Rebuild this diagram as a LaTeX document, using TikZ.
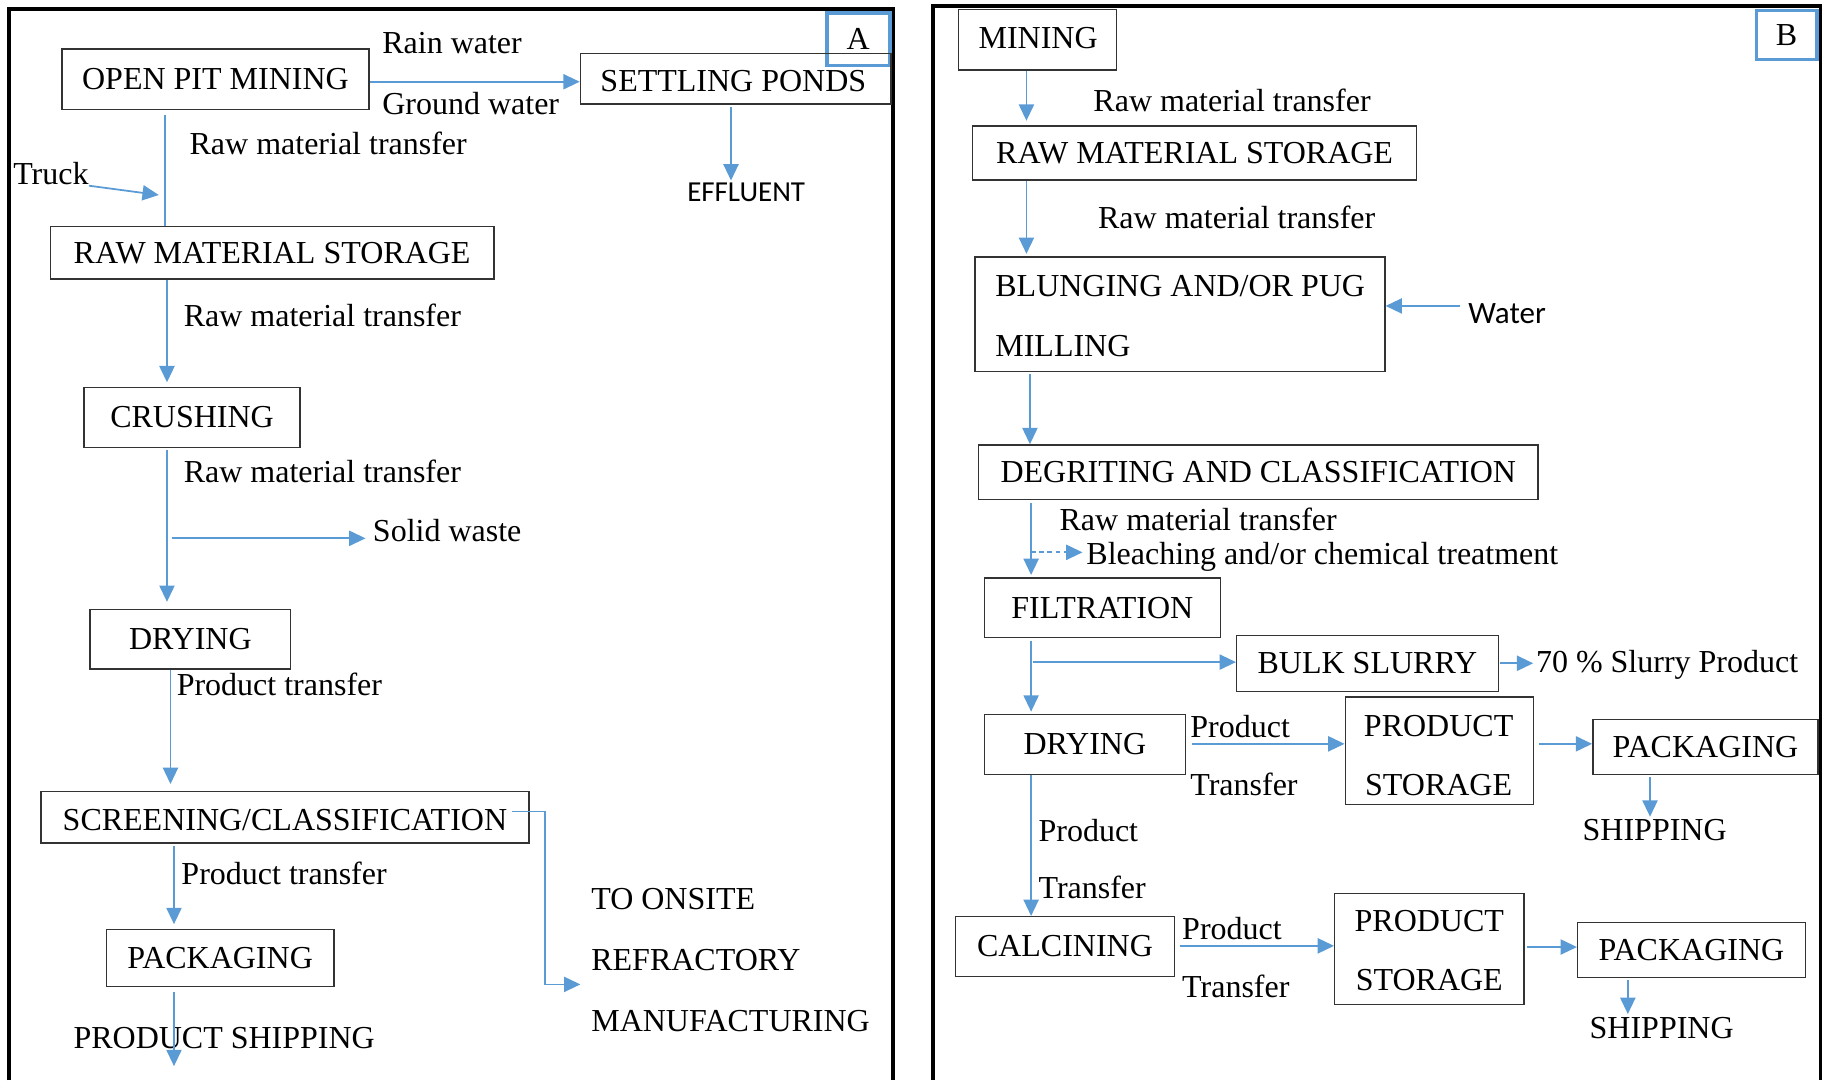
\documentclass[tikz,border=0pt]{standalone}
\usepackage{fontspec}
\setmainfont{Liberation Serif}
\newfontfamily\calib{Carlito}
\usetikzlibrary{arrows.meta,fit}
\definecolor{myblue}{HTML}{5B9BD5}
\begin{document}
\begin{tikzpicture}[x=0.5pt,y=-0.5pt,
 font=\fontsize{13.7}{16}\selectfont,
 box/.style={draw=black!80, line width=0.6pt, inner sep=0pt},
 lbl/.style={anchor=west, inner sep=0pt},
 ctr/.style={inner sep=0pt, anchor=center},
 flow/.style={draw=myblue, line width=0.75pt, -{Triangle[length=7pt,width=6.5pt]}},
 link/.style={draw=myblue, line width=0.75pt},
 frame/.style={line width=1.6pt, black},
 tag/.style={draw=myblue, line width=1.5pt, inner sep=0pt}]
\useasboundingbox (0,0) rectangle (1568,925);
% panel frames
\draw[frame] (8,925) -- (8,8) -- (765,8) -- (765,925);
\draw[frame] (799,925) -- (799,5) -- (1559,5) -- (1559,925);
\node[tag, fit={(708,11) (762,56)}] (tagA) {};
\node[ctr] (tagAt) at (tagA) {A};
\node[tag, fit={(1504,9) (1556,51)}] (tagB) {};
\node[ctr] (tagBt) at (tagB) {B};

% ---------- Panel A ----------
\node[box, fit={(53,42) (316,94)}] (opm) {};
\node[ctr] (opmt) at (opm) {OPEN PIT MINING};
\node[box, fit={(497,46) (763,89)}] (sp) {};
\node[ctr] (spt) at (628,69) {SETTLING PONDS};
\node[ctr, font=\calib\fontsize{12.4}{14}\selectfont] (eff) at (639,165) {EFFLUENT};
\node[lbl] (rain) at (327,37) {Rain water};
\node[lbl] (ground) at (327,89) {Ground water};
\node[lbl] (rmtA1) at (162,123) {Raw material transfer};
\node[lbl] (truck) at (11,149) {Truck};
\node[box, fit={(43,194) (423,239)}] (rmsA) {};
\node[ctr] (rmsAt) at (rmsA) {RAW MATERIAL STORAGE};
\node[lbl] (rmtA2) at (157,270) {Raw material transfer};
\node[box, fit={(72,332) (257,383)}] (crA) {};
\node[ctr] (crAt) at (crA) {CRUSHING};
\node[lbl] (rmtA3) at (157,404) {Raw material transfer};
\node[lbl] (sw) at (319,454) {Solid waste};
\node[box, fit={(77,522) (249,573)}] (dryA) {};
\node[ctr] (dryAt) at (dryA) {DRYING};
\node[lbl] (ptA1) at (151,586) {Product transfer};
\node[box, fit={(35,678) (453,722)}] (scrA) {};
\node[ctr] (scrAt) at (244,702) {SCREENING/CLASSIFICATION};
\node[lbl] (ptA2) at (155,748) {Product transfer};
\node[box, fit={(91,796) (286,845)}] (pkA) {};
\node[ctr] (pkAt) at (pkA) {PACKAGING};
\node[ctr] (shipA) at (192,889) {PRODUCT SHIPPING};
\node[lbl] (ons1) at (506,770) {TO ONSITE};
\node[lbl] (ons2) at (506,822) {REFRACTORY};
\node[lbl] (ons3) at (506,874) {MANUFACTURING};

\coordinate (xA1) at (141,0);
\coordinate (xA2) at (626,0);
\coordinate (xA3) at (143,0);
\coordinate (xA4) at (146,0);
\coordinate (xA5) at (149,0);
\coordinate (truckend) at (136,167);
\coordinate (swst) at (147,461);
\coordinate (turnA) at (467,695);
\coordinate (onsite) at (497,843);
\coordinate (shipend) at (149,913);

\draw[flow] (opm.east |- 0,70) -- (sp.west |- 0,70);
\draw[flow] ([yshift=-1pt]sp.south -| xA2) -- ([yshift=1pt]eff.north -| xA2);
\draw[link] ([yshift=-2pt]opm.south -| xA1) -- (rmsA.north -| xA1);
\draw[flow] (truck.south east) -- (truckend);
\draw[flow] (rmsA.south -| xA3) -- ([yshift=2pt]crA.north -| xA3);
\draw[flow] ([yshift=-1pt]crA.south -| xA3) -- ([yshift=3pt]dryA.north -| xA3);
\draw[flow] (swst) -- ([xshift=-3pt]swst -| sw.west);
\draw[flow] (dryA.south -| xA4) -- ([yshift=3pt]scrA.north -| xA4);
\draw[flow] ([yshift=-1pt]scrA.south -| xA5) -- ([yshift=2pt]pkA.north -| xA5);
\draw[flow] ([yshift=-2pt]pkA.south -| xA5) -- (shipend);
\draw[flow] ([shift={(-15,-5)}]scrA.east) -- (turnA) |- (onsite);

% ---------- Panel B ----------
\node[box, fit={(821,8) (956,60)}] (minB) {};
\node[ctr] (minBt) at (889,33) {MINING};
\node[lbl] (rmtB1) at (936,86) {Raw material transfer};
\node[box, fit={(833,108) (1213,154)}] (rmsB) {};
\node[ctr] (rmsBt) at (rmsB) {RAW MATERIAL STORAGE};
\node[lbl] (rmtB2) at (940,186) {Raw material transfer};
\node[box, fit={(835,220) (1186,318)}] (blu) {};
\node[lbl] (blu1) at (852,245) {BLUNGING AND/OR PUG};
\node[lbl] (blu2) at (852,296) {MILLING};
\node[lbl, font=\calib\fontsize{13.3}{15}\selectfont] (water) at (1257,269) {Water};
\node[box, fit={(838,381) (1317,428)}] (deg) {};
\node[ctr] (degt) at (deg) {DEGRITING AND CLASSIFICATION};
\node[lbl] (rmtB3) at (907,445) {Raw material transfer};
\node[lbl] (bleach) at (930,477) {Bleaching and/or chemical treatment};
\node[box, fit={(843,495) (1045,546)}] (fil) {};
\node[ctr] (filt) at (fil) {FILTRATION};
\node[box, fit={(1059,544) (1283,592)}] (bulk) {};
\node[ctr] (bulkt) at (bulk) {BULK SLURRY};
\node[lbl] (slurry) at (1315,569) {70 \% Slurry Product};
\node[box, fit={(843,612) (1015,663)}] (dryB) {};
\node[ctr] (dryBt) at (dryB) {DRYING};
\node[lbl] (pt1) at (1019,622) {Product};
\node[lbl] (tr1) at (1019,672) {Transfer};
\node[box, fit={(1152,597) (1313,689)}] (ps1) {};
\node[ctr] (ps1a) at (1232,622) {PRODUCT};
\node[ctr] (ps1b) at (1232,672) {STORAGE};
\node[box, fit={(1364,616) (1557,663)}] (pk1) {};
\node[ctr] (pk1t) at (pk1) {PACKAGING};
\node[ctr] (ship1) at (1417,711) {SHIPPING};
\node[lbl] (pt2) at (889,711) {Product};
\node[lbl] (tr2) at (889,760) {Transfer};
\node[box, fit={(818,785) (1006,836)}] (calc) {};
\node[ctr] (calct) at (calc) {CALCINING};
\node[lbl] (pt3) at (1012,795) {Product};
\node[lbl] (tr3) at (1012,845) {Transfer};
\node[box, fit={(1143,765) (1305,860)}] (ps2) {};
\node[ctr] (ps2a) at (1224,789) {PRODUCT};
\node[ctr] (ps2b) at (1224,839) {STORAGE};
\node[box, fit={(1351,790) (1546,837)}] (pk2) {};
\node[ctr] (pk2t) at (pk2) {PACKAGING};
\node[ctr] (ship2) at (1423,880) {SHIPPING};

\coordinate (xB1) at (879,0);
\coordinate (xB2) at (882,0);
\coordinate (xB3) at (883,0);
\coordinate (xB4) at (1413,0);
\coordinate (xB5) at (1394,0);
\coordinate (wst) at (1250,262);
\coordinate (bl) at (883,473);
\coordinate (bk) at (885,567);

\draw[flow] (minB.south -| xB1) -- ([yshift=2pt]rmsB.north -| xB1);
\draw[flow] (rmsB.south -| xB1) -- ([yshift=1pt]blu.north -| xB1);
\draw[flow] (wst) -- (wst -| blu.east);
\draw[flow] ([yshift=-1pt]blu.south -| xB2) -- (deg.north -| xB2);
\draw[flow] ([yshift=-1pt]deg.south -| xB3) -- ([yshift=1pt]fil.north -| xB3);
\draw[flow, dash pattern=on 2pt off 1.5pt] (bl) -- ([xshift=-1.5pt]bl -| bleach.west);
\draw[flow] ([yshift=-1pt]fil.south -| xB3) -- ([yshift=1pt]dryB.north -| xB3);
\draw[flow] (bk) -- (bk -| bulk.west);
\draw[flow] ([xshift=0.5pt]bulk.east) -- ([xshift=-1pt]bulk.east -| slurry.west);
\draw[flow] ([xshift=2.5pt]dryB.east |- 0,637) -- (ps1.west |- 0,637);
\draw[flow] ([xshift=2pt]ps1.east |- 0,637) -- (pk1.west |- 0,637);
\draw[flow] ([yshift=-1pt]pk1.south -| xB4) -- ([yshift=1pt]ship1.north -| xB4);
\draw[flow] (dryB.south -| xB3) -- (calc.north -| xB3);
\draw[flow] ([xshift=2pt]calc.east |- 0,810) -- (ps2.west |- 0,810);
\draw[flow] ([xshift=1pt]ps2.east |- 0,811) -- (pk2.west |- 0,811);
\draw[flow] ([yshift=-1pt]pk2.south -| xB5) -- ([yshift=1pt]ship2.north -| xB5);
\end{tikzpicture}
\end{document}
